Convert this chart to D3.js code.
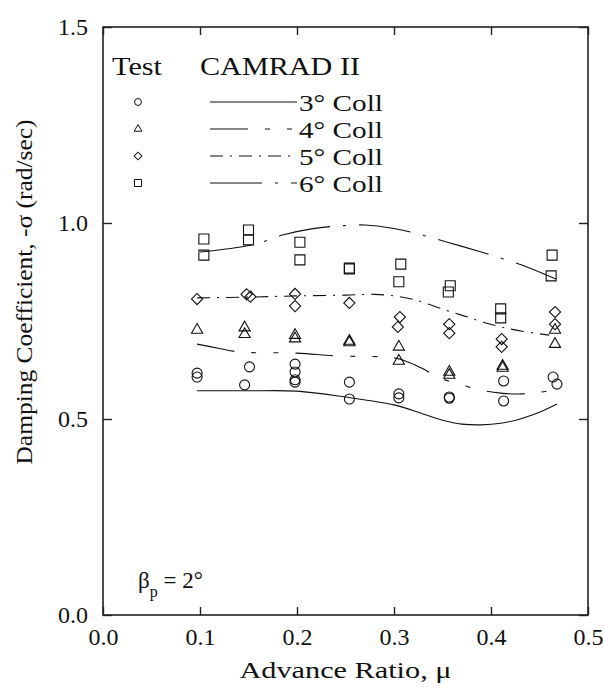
<!DOCTYPE html>
<html><head><meta charset="utf-8">
<script src="https://cdn.jsdelivr.net/npm/d3@7"></script>
<style>
body{margin:0;background:#fff;}
text{font-family:"Liberation Serif","Times New Roman",serif;fill:#111;}
</style></head>
<body><svg id="c" width="604" height="689"></svg>
<script>
// ---- data ----
const xTicks = [0.0, 0.1, 0.2, 0.3, 0.4, 0.5];
const yTicks = [0.0, 0.5, 1.0, 1.5];

const testCircles = [[0.097,0.617],[0.097,0.607],[0.151,0.633],[0.146,0.587],[0.198,0.640],[0.198,0.620],[0.198,0.600],[0.198,0.594],[0.254,0.594],[0.254,0.551],[0.305,0.564],[0.305,0.554],[0.357,0.556],[0.357,0.553],[0.413,0.597],[0.413,0.546],[0.464,0.607],[0.468,0.589]];
const testTriangles = [[0.097,0.727],[0.146,0.733],[0.146,0.716],[0.198,0.714],[0.198,0.705],[0.254,0.699],[0.254,0.695],[0.305,0.684],[0.305,0.648],[0.357,0.620],[0.357,0.612],[0.412,0.635],[0.412,0.630],[0.466,0.727],[0.466,0.691]];
const testDiamonds = [[0.097,0.806],[0.148,0.818],[0.152,0.812],[0.198,0.819],[0.198,0.788],[0.254,0.796],[0.306,0.760],[0.304,0.735],[0.357,0.742],[0.357,0.719],[0.411,0.704],[0.411,0.684],[0.466,0.773],[0.466,0.742]];
const testSquares = [[0.104,0.959],[0.104,0.918],[0.150,0.982],[0.150,0.957],[0.203,0.951],[0.203,0.906],[0.254,0.883],[0.254,0.885],[0.307,0.895],[0.305,0.850],[0.358,0.840],[0.356,0.824],[0.410,0.781],[0.410,0.758],[0.463,0.918],[0.462,0.865]];

const camrad3 = [[0.097,0.572],[0.15,0.572],[0.2,0.571],[0.25,0.556],[0.3,0.536],[0.33,0.513],[0.35,0.497],[0.37,0.487],[0.39,0.485],[0.41,0.489],[0.43,0.500],[0.45,0.517],[0.468,0.538]];
const camrad4 = [[0.097,0.691],[0.12,0.680],[0.14,0.671],[0.2,0.668],[0.24,0.661],[0.3,0.656],[0.315,0.645],[0.33,0.628],[0.347,0.605],[0.37,0.587],[0.389,0.574],[0.41,0.566],[0.432,0.564],[0.45,0.568],[0.464,0.574]];
const camrad5 = [[0.097,0.809],[0.15,0.811],[0.2,0.814],[0.25,0.816],[0.28,0.818],[0.3,0.814],[0.32,0.805],[0.347,0.783],[0.363,0.770],[0.376,0.760],[0.392,0.747],[0.41,0.735],[0.432,0.724],[0.46,0.714]];
const camrad6 = [[0.1,0.926],[0.155,0.945],[0.186,0.970],[0.215,0.985],[0.241,0.992],[0.27,0.995],[0.3,0.986],[0.325,0.972],[0.355,0.951],[0.39,0.926],[0.407,0.913],[0.437,0.888],[0.467,0.857]];

const legendLabels = ["3° Coll","4° Coll","5° Coll","6° Coll"];

// ---- layout ----
const svg = d3.select("#c");
const L=103, R=588, T=27, B=615;
const x = d3.scaleLinear().domain([0,0.5]).range([L,R]);
const y = d3.scaleLinear().domain([0,1.5]).range([B,T]);

const dashes = [null, "38,17,5,17,5,17", "13,7,2,7", "52,13,3,13"];
const series = [camrad3, camrad4, camrad5, camrad6];

const line = d3.line().x(d=>x(d[0])).y(d=>y(d[1])).curve(d3.curveCatmullRom.alpha(0.5));
const g = svg.append("g");
series.forEach((s,i)=>{
  g.append("path").attr("d",line(s)).attr("fill","none").attr("stroke","#111")
   .attr("stroke-width",1.1).attr("stroke-dasharray",dashes[i]);
});

// markers
const circ = d3.symbol().type(d3.symbolCircle);
const sq = d3.symbol().type(d3.symbolSquare);
const tri = d3.symbol().type(d3.symbolTriangle);
function drawMarkers(data, kind){
  data.forEach(d=>{
    let p, rot=0;
    if(kind==="c") p = circ.size(Math.PI*25)();
    if(kind==="s") p = sq.size(100)();
    if(kind==="t") p = tri.size(54)();
    if(kind==="d"){ p = sq.size(62)(); rot=45; }
    g.append("path").attr("d",p)
     .attr("transform",`translate(${x(d[0])},${y(d[1])}) rotate(${rot})`)
     .attr("fill","none").attr("stroke","#111").attr("stroke-width",1.1);
  });
}
drawMarkers(testCircles,"c");
drawMarkers(testTriangles,"t");
drawMarkers(testDiamonds,"d");
drawMarkers(testSquares,"s");

// frame
svg.append("rect").attr("x",L).attr("y",T).attr("width",R-L).attr("height",B-T)
  .attr("fill","none").attr("stroke","#222").attr("stroke-width",1.6);

// axes with inward ticks on all sides
const axB = d3.axisBottom(x).tickValues(xTicks).tickSize(-8).tickFormat(d3.format(".1f")).tickPadding(14);
const axT = d3.axisTop(x).tickValues(xTicks).tickSize(-8).tickFormat("");
const axL = d3.axisLeft(y).tickValues(yTicks).tickSize(-9).tickFormat(d3.format(".1f")).tickPadding(15);
const axR = d3.axisRight(y).tickValues(yTicks).tickSize(-9).tickFormat("");
[[axB,`translate(0,${B})`],[axT,`translate(0,${T})`],[axL,`translate(${L},0)`],[axR,`translate(${R},0)`]].forEach(([a,tr])=>{
  const gg = svg.append("g").attr("transform",tr).call(a);
  gg.select(".domain").remove();
  gg.selectAll("line").attr("stroke","#222").attr("stroke-width",1.4);
  gg.selectAll("text").attr("font-size",23).attr("font-family","Liberation Serif").attr("fill","#111")
    .attr("textLength",30).attr("lengthAdjust","spacingAndGlyphs");
});

// axis titles
svg.append("text").attr("x",(L+R)/2).attr("y",678).attr("text-anchor","middle")
  .attr("font-size",24).attr("textLength",212).attr("lengthAdjust","spacingAndGlyphs").text("Advance Ratio, μ");
svg.append("text").attr("transform","translate(32,292) rotate(-90)").attr("text-anchor","middle")
  .attr("font-size",23).attr("textLength",345).attr("lengthAdjust","spacingAndGlyphs").text("Damping Coefficient, -σ (rad/sec)");

// legend
svg.append("text").attr("x",112).attr("y",75).attr("font-size",25)
  .attr("textLength",50).attr("lengthAdjust","spacingAndGlyphs").text("Test");
svg.append("text").attr("x",200).attr("y",75).attr("font-size",25)
  .attr("textLength",160).attr("lengthAdjust","spacingAndGlyphs").text("CAMRAD II");
const rowsY = [102,129,156,183];
const kinds = ["c","t","d","s"];
kinds.forEach((k,i)=>{
  const yy = rowsY[i];
  let p, rot=0;
  if(k==="c") p = circ.size(Math.PI*12)();
  if(k==="s") p = sq.size(49)();
  if(k==="t") p = tri.size(26)();
  if(k==="d"){ p = sq.size(30)(); rot=45; }
  svg.append("path").attr("d",p).attr("transform",`translate(138,${yy}) rotate(${rot})`)
    .attr("fill","none").attr("stroke","#111").attr("stroke-width",1);
  svg.append("line").attr("x1",210).attr("x2",297).attr("y1",yy).attr("y2",yy)
    .attr("stroke","#111").attr("stroke-width",1.1).attr("stroke-dasharray",dashes[i]);
  svg.append("text").attr("x",299).attr("y",yy+8.5).attr("font-size",24)
    .attr("textLength",84).attr("lengthAdjust","spacingAndGlyphs").text(legendLabels[i]);
});

// annotation beta_p = 2°
const ann = svg.append("text").attr("x",138).attr("y",588).attr("font-size",23);
ann.append("tspan").text("β");
ann.append("tspan").attr("font-size",16).attr("dy",9).text("p");
ann.append("tspan").attr("dy",-9).text(" = 2°");
</script></body></html>
